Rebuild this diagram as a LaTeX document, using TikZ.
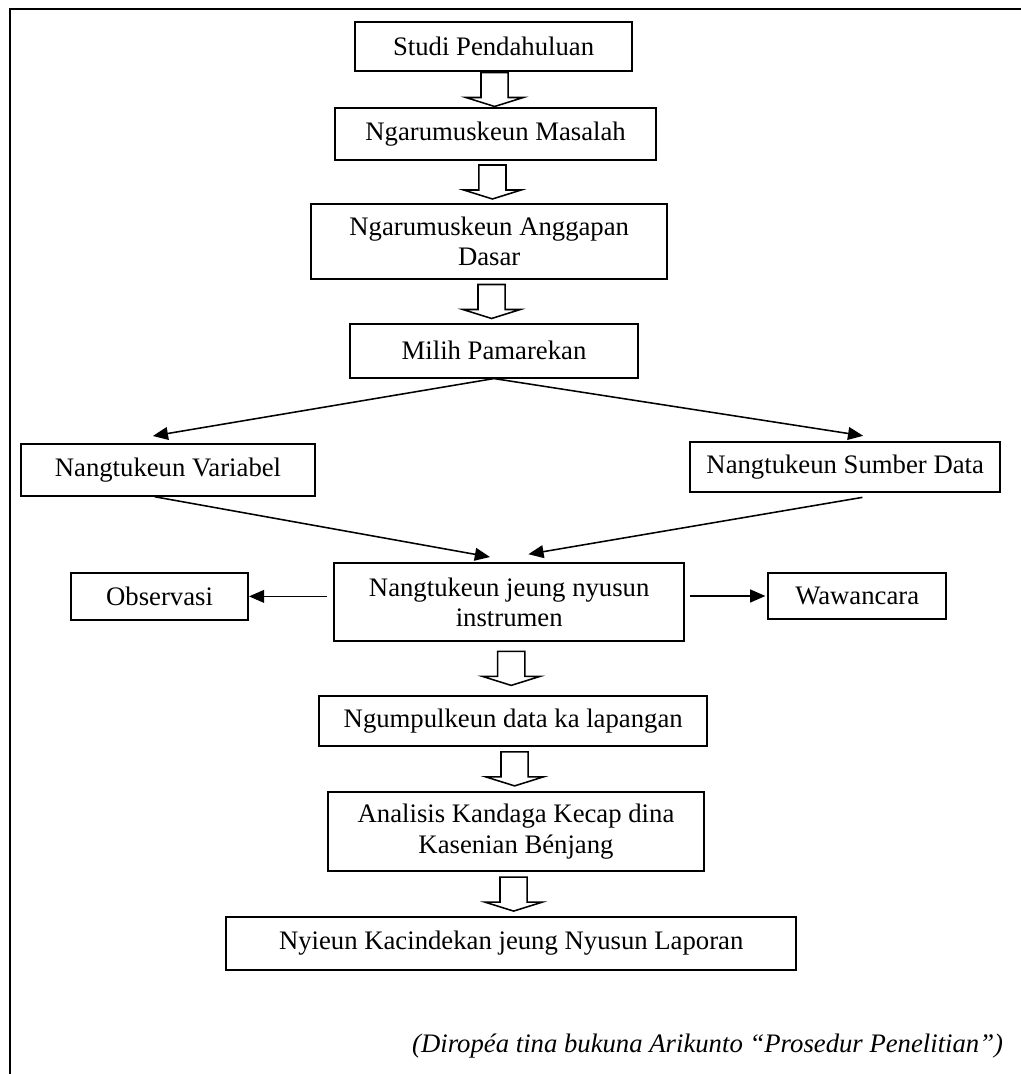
\documentclass[tikz,border=0pt]{standalone}
\usepackage{fontspec}
\setmainfont{Liberation Serif}
\usetikzlibrary{arrows.meta,calc}

\begin{document}
\begin{tikzpicture}[
        box/.style={draw, line width=1.1pt, align=center, inner sep=2pt, font=\fontsize{19}{21.5}\selectfont},
        arr/.style={line width=1.1pt, -{Triangle[length=0.38cm,width=0.32cm]}},
        pics/downarr/.style={code={
            \draw[line width=1.1pt, fill=white] (-0.34,0.425) -- (0.34,0.425) -- (0.34,-0.2) -- (0.72,-0.2)
                -- (0,-0.425) -- (-0.72,-0.2) -- (-0.34,-0.2) -- cycle;
        }}
    ]
                \useasboundingbox (0,0) rectangle (25.525,26.85);
                \draw[line width=1.5pt] (0.25,0) -- (0.25,26.625) -- (25.525,26.625);

                \node[box, minimum width=6.93cm, minimum height=1.23cm] (studi) at (12.34,25.69) {Studi Pendahuluan};
                \node[box, minimum width=8.03cm, minimum height=1.3cm] (masalah) at (12.39,23.5) {Ngarumuskeun Masalah};
                \node[box, minimum width=8.9cm, minimum height=1.88cm] (anggapan) at (12.23,20.81) {Ngarumuskeun Anggapan\\Dasar};
                \node[box, minimum width=7.2cm, minimum height=1.35cm] (milih) at (12.35,18.08) {Milih Pamarekan};
                \node[box, minimum width=7.35cm, minimum height=1.3cm] (variabel) at (4.2,15.1) {Nangtukeun Variabel};
                \node[box, minimum width=7.75cm, minimum height=1.25cm] (sumber) at (21.13,15.18) {Nangtukeun Sumber Data};
                \node[box, minimum width=8.75cm, minimum height=1.95cm] (instrumen) at (12.73,11.8) {Nangtukeun jeung nyusun\\instrumen};
                \node[box, minimum width=4.43cm, minimum height=1.18cm] (observasi) at (3.99,11.94) {Observasi};
                \node[box, minimum width=4.45cm, minimum height=1.15cm] (wawancara) at (21.43,11.95) {Wawancara};
                \node[box, minimum width=9.7cm, minimum height=1.25cm] (ngumpulkeun) at (12.83,8.83) {Ngumpulkeun data ka lapangan};
                \node[box, minimum width=9.4cm, minimum height=1.98cm] (analisis) at (12.9,6.06) {Analisis Kandaga Kecap dina\\Kasenian B\'enjang};
                \node[box, minimum width=14.25cm, minimum height=1.33cm] (nyieun) at (12.78,3.26) {Nyieun Kacindekan jeung Nyusun Laporan};

                % panah gede
                \pic at ($(studi.south)!0.5!(masalah.north)$) {downarr};
                \pic at ($(masalah.south)!0.5!(anggapan.north)$) {downarr};
                \pic at ($(anggapan.south)!0.5!(milih.north)$) {downarr};
                \pic at ($(instrumen.south)!0.5!(ngumpulkeun.north)$) {downarr};
                \pic at ($(ngumpulkeun.south)!0.5!(analisis.north)$) {downarr};
                \pic at ($(analisis.south)!0.5!(nyieun.north)$) {downarr};

                % panah leutik
                \draw[arr] (milih.south) -- ([xshift=-0.38cm,yshift=0.18cm]variabel.north);
                \draw[arr] (milih.south) -- ([xshift=0.45cm,yshift=0.13cm]sumber.north);
                \draw[arr] ([xshift=-0.33cm]variabel.south) -- ([xshift=-0.48cm,yshift=0.13cm]instrumen.north);
                \draw[arr] ([xshift=0.43cm,yshift=-0.12cm]sumber.south) -- ([xshift=0.48cm,yshift=0.2cm]instrumen.north);
                \draw[arr, shorten <=0.15cm] (instrumen.west |- observasi.east) -- (observasi.east);
                \draw[arr, shorten <=0.13cm] (instrumen.east |- wawancara.west) -- ([xshift=-0.05cm]wawancara.west);

                \node[anchor=base east, font=\fontsize{19}{21.5}\selectfont\itshape] (sumberbuku) at (25.2,0.525)
                    {(Dirop\'ea tina bukuna Arikunto ``Prosedur Penelitian'')};
            \end{tikzpicture}
\end{document}
